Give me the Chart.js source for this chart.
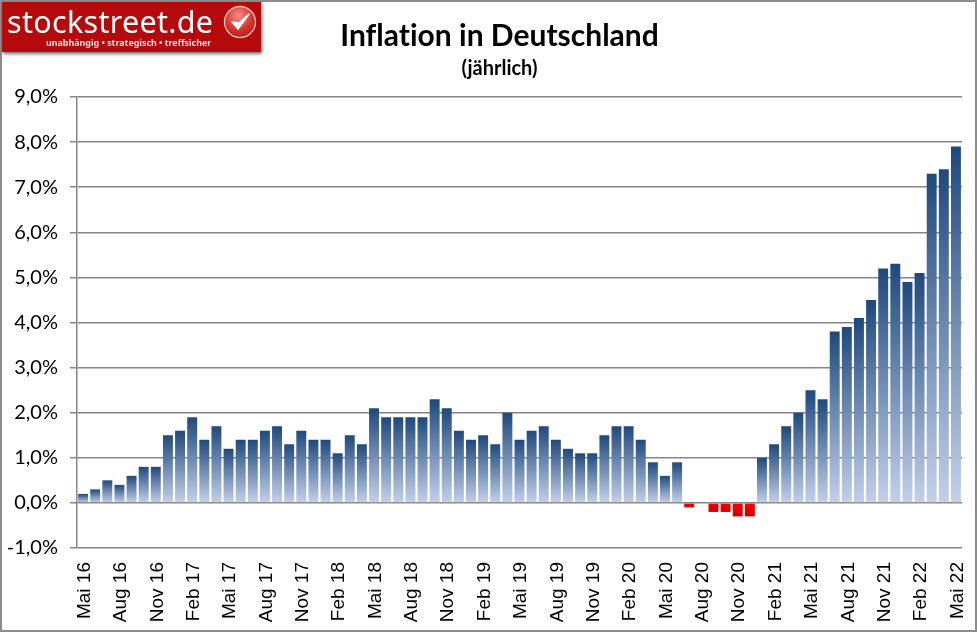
<!DOCTYPE html>
<html><head><meta charset="utf-8">
<script src="https://cdn.jsdelivr.net/npm/chart.js@4"></script>
<style>
html,body{margin:0;padding:0;background:#fff;width:977px;height:632px;overflow:hidden}
#c{position:absolute;left:0;top:0}
#frame{position:absolute;left:0;top:0;width:973px;height:628px;border:2px solid #8c8c8c;pointer-events:none}
#logo{position:absolute;left:2px;top:2px;width:259px;height:50px;background:#b5090c;box-shadow:1px 2px 3px rgba(0,0,0,.55);color:#fff;overflow:hidden}
#logo .n{position:absolute;left:5px;top:-3px;font:30.5px/44px "Noto Sans",sans-serif;letter-spacing:.3px;white-space:nowrap}
#logo .s{position:absolute;left:44px;top:35px;font:bold 8.9px/12px "Noto Sans",sans-serif;white-space:nowrap;color:#f4dcdc}
#logo svg{position:absolute;left:221px;top:3px}
</style></head><body>
<canvas id="c" width="977" height="632"></canvas>
<div id="frame"></div>
<div id="logo"><div class="n">stockstreet.de</div><div class="s">unabhängig • strategisch • treffsicher</div>
<svg width="34" height="34" viewBox="0 0 34 34"><defs><radialGradient id="g" cx=".45" cy=".3" r=".8"><stop offset="0" stop-color="#f0908a"/><stop offset=".55" stop-color="#d8352c"/><stop offset="1" stop-color="#a81510"/></radialGradient></defs><circle cx="17" cy="17" r="15.5" fill="url(#g)" stroke="#e8c8c4" stroke-width="1.3"/><path d="M9 17l6 7L26 9l-10 9z" fill="#fff" stroke="#fff" stroke-width="1.5" stroke-linejoin="round"/></svg></div>
<script>
const titleText = "Inflation in Deutschland";
const subtitleText = "(jährlich)";
const categories = [
"Mai 16","Jun 16","Jul 16","Aug 16","Sep 16","Okt 16","Nov 16","Dez 16",
"Jan 17","Feb 17","Mrz 17","Apr 17","Mai 17","Jun 17","Jul 17","Aug 17","Sep 17","Okt 17","Nov 17","Dez 17",
"Jan 18","Feb 18","Mrz 18","Apr 18","Mai 18","Jun 18","Jul 18","Aug 18","Sep 18","Okt 18","Nov 18","Dez 18",
"Jan 19","Feb 19","Mrz 19","Apr 19","Mai 19","Jun 19","Jul 19","Aug 19","Sep 19","Okt 19","Nov 19","Dez 19",
"Jan 20","Feb 20","Mrz 20","Apr 20","Mai 20","Jun 20","Jul 20","Aug 20","Sep 20","Okt 20","Nov 20","Dez 20",
"Jan 21","Feb 21","Mrz 21","Apr 21","Mai 21","Jun 21","Jul 21","Aug 21","Sep 21","Okt 21","Nov 21","Dez 21",
"Jan 22","Feb 22","Mrz 22","Apr 22","Mai 22"];
const inflation = [
0.2,0.3,0.5,0.4,0.6,0.8,0.8,1.5,
1.6,1.9,1.4,1.7,1.2,1.4,1.4,1.6,1.7,1.3,1.6,1.4,
1.4,1.1,1.5,1.3,2.1,1.9,1.9,1.9,1.9,2.3,2.1,1.6,
1.4,1.5,1.3,2.0,1.4,1.6,1.7,1.4,1.2,1.1,1.1,1.5,
1.7,1.7,1.4,0.9,0.6,0.9,-0.1,0.0,-0.2,-0.2,-0.3,-0.3,
1.0,1.3,1.7,2.0,2.5,2.3,3.8,3.9,4.1,4.5,5.2,5.3,
4.9,5.1,7.3,7.4,7.9];

function barFill(c){
  if(c.type!=="data") return "#1f497d";
  const y=c.chart.scales.y, v=c.raw, g0=y.getPixelForValue(0), gv=y.getPixelForValue(v);
  if(!isFinite(g0)||!isFinite(gv)) return "#1f497d";
  if(gv===g0) return "rgba(0,0,0,0)";
  const g=c.chart.ctx.createLinearGradient(0,Math.min(g0,gv),0,Math.max(g0,gv));
  if(v>=0){g.addColorStop(0,"#1f497d");g.addColorStop(1,"#c3d1ea");}
  else{g.addColorStop(0,"#ff0000");g.addColorStop(1,"#c80000");}
  return g;
}
const titleShift = {
  id:"titleShift",
  afterLayout(chart){
    chart.boxes.forEach(b=>{ if(b.options && typeof b.options.text==="string"){ b.left+=18.5; b.right+=18.5; } });
  },
  beforeDraw(chart){ chart.ctx.textRendering="optimizeSpeed"; }
};
new Chart(document.getElementById("c"),{
  type:"bar",
  plugins:[titleShift],
  data:{labels:categories,datasets:[{data:inflation,backgroundColor:barFill,borderWidth:0,barPercentage:0.82,categoryPercentage:1}]},
  options:{
    responsive:false,animation:false,devicePixelRatio:1,
    layout:{autoPadding:false,padding:{left:0,right:15,top:0,bottom:0}},
    plugins:{
      legend:{display:false},tooltip:{enabled:false},
      title:{display:true,text:titleText,color:"#000",font:{family:"Lato",size:30,weight:"bold"},padding:{top:18,bottom:2}},
      subtitle:{display:true,text:subtitleText,color:"#000",font:{family:"Lato",size:20,weight:"bold"},padding:{top:1,bottom:16}}
    },
    scales:{
      x:{
        grid:{display:false,drawTicks:false},border:{display:false},
        afterFit(s){s.height=84;s.paddingLeft=0;s.paddingRight=0;},
        ticks:{autoSkip:false,minRotation:90,maxRotation:90,padding:14,labelOffset:1.5,color:"#000",
          font:{family:"Liberation Sans",size:19},
          callback(v,i){return i%3===0?this.getLabelForValue(v):"";}}
      },
      y:{
        min:-1,max:9,
        afterFit(s){s.width=77;},
        grid:{color:"#868686",lineWidth:1.5,tickLength:7,drawTicks:true},
        border:{color:"#868686",width:1.5},
        ticks:{stepSize:1,padding:12,color:"#000",font:{family:"Lato",size:20},
          callback(v){return v.toFixed(1).replace(".",",")+"%";}}
      }
    }
  }
});
</script></body></html>
